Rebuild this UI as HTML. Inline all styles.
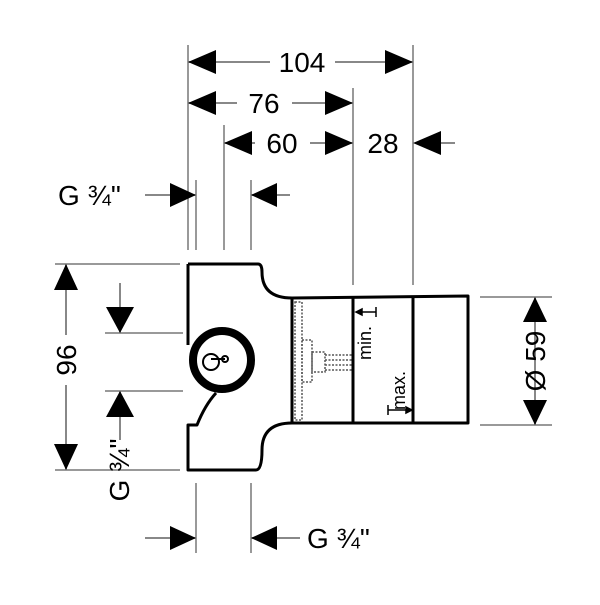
<!DOCTYPE html>
<html><head><style>html,body{margin:0;padding:0;background:#fff}</style></head>
<body>
<svg width="600" height="600" viewBox="0 0 600 600" xmlns="http://www.w3.org/2000/svg" font-family="Liberation Sans, sans-serif">
<g stroke="#999" stroke-width="2" fill="none">
<line x1="188" y1="45" x2="188" y2="250"/>
<line x1="196" y1="180" x2="196" y2="250"/>
<line x1="224" y1="125" x2="224" y2="250"/>
<line x1="251" y1="180" x2="251" y2="250"/>
<line x1="353" y1="88" x2="353" y2="285"/>
<line x1="413" y1="45" x2="413" y2="285"/>
<line x1="55" y1="264" x2="180" y2="264"/>
<line x1="55" y1="470" x2="180" y2="470"/>
<line x1="105" y1="333" x2="183" y2="333"/>
<line x1="105" y1="391" x2="183" y2="391"/>
<line x1="480" y1="297" x2="552" y2="297"/>
<line x1="480" y1="425" x2="552" y2="425"/>
<line x1="196" y1="483" x2="196" y2="553"/>
<line x1="251" y1="483" x2="251" y2="553"/>
</g>
<g stroke="#888" stroke-width="2" fill="none">
<line x1="188" y1="62" x2="270" y2="62"/><line x1="335" y1="62" x2="413" y2="62"/>
<line x1="188" y1="103" x2="237" y2="103"/><line x1="292" y1="103" x2="353" y2="103"/>
<line x1="224" y1="143" x2="255" y2="143"/><line x1="310" y1="143" x2="353" y2="143"/>
<line x1="420" y1="143" x2="455" y2="143"/>
<line x1="145" y1="195" x2="196" y2="195"/><line x1="251" y1="195" x2="290" y2="195"/>
<line x1="66" y1="264" x2="66" y2="335"/><line x1="66" y1="385" x2="66" y2="470"/>
<line x1="120" y1="283" x2="120" y2="333"/><line x1="120" y1="391" x2="120" y2="440"/>
<line x1="535" y1="297" x2="535" y2="425"/>
<line x1="145" y1="538" x2="196" y2="538"/><line x1="251" y1="538" x2="300" y2="538"/>
</g>
<g fill="#000">
<path d="M188,62 L216,50 L216,74z"/><path d="M413,62 L385,50 L385,74z"/>
<path d="M188,103 L216,91 L216,115z"/><path d="M353,103 L325,91 L325,115z"/>
<path d="M224,143 L252,131 L252,155z"/><path d="M353,143 L325,131 L325,155z"/>
<path d="M413,143 L441,131 L441,155z"/>
<path d="M196,195 L170,183 L170,207z"/><path d="M251,195 L277,183 L277,207z"/>
<path d="M66,264 L54,290 L78,290z"/><path d="M66,470 L54,444 L78,444z"/>
<path d="M120,333 L106,307 L134,307z"/><path d="M120,391 L106,417 L134,417z"/>
<path d="M535,297 L523,322 L547,322z"/><path d="M535,425 L523,400 L547,400z"/>
<path d="M196,538 L170,526 L170,550z"/><path d="M251,538 L277,526 L277,550z"/>
</g>
<g font-size="28" fill="#000">
<text x="302" y="72" text-anchor="middle">104</text>
<text x="264" y="113" text-anchor="middle">76</text>
<text x="282" y="153" text-anchor="middle">60</text>
<text x="383" y="153" text-anchor="middle">28</text>
<text x="58" y="205">G ¾"</text>
<text x="307" y="548">G ¾"</text>
<text transform="translate(76,360) rotate(-90)" text-anchor="middle">96</text>
<text transform="translate(129,470) rotate(-90)" text-anchor="middle">G ¾"</text>
<text transform="translate(545,361) rotate(-90)" text-anchor="middle">Ø 59</text>
</g>
<g stroke="#000" stroke-width="3" fill="none" stroke-linejoin="round">
<path d="M188,264 L258,264 Q262,264 262,272 Q262,298 292,298 L468,296 L468,423 L292,423 Q262,423 262,450 Q262,470 256,470 L188,470 L188,425 L197,425 Q205,405 216,393"/>
<line x1="188" y1="264" x2="188" y2="345"/>
<line x1="292" y1="298" x2="292" y2="423"/>
<line x1="353" y1="297" x2="353" y2="423"/>
<line x1="413" y1="296" x2="413" y2="423"/>
</g>
<circle cx="222" cy="360" r="29" fill="#fff" stroke="#000" stroke-width="8"/>
<circle cx="211" cy="362" r="8" fill="none" stroke="#000" stroke-width="2"/>
<path d="M211,359 L225,359" stroke="#000" stroke-width="2"/>
<circle cx="225" cy="359" r="3" fill="none" stroke="#000" stroke-width="2"/>
<g stroke="#555" stroke-width="1.5" fill="none" stroke-dasharray="2,1.5">
<rect x="295" y="302" width="7" height="118"/>
<rect x="302" y="340" width="10" height="42"/>
<rect x="312" y="352" width="13" height="20"/>
<line x1="325" y1="355" x2="353" y2="355"/><line x1="325" y1="360" x2="353" y2="360"/>
<line x1="325" y1="365" x2="353" y2="365"/><line x1="325" y1="370" x2="353" y2="370"/>
</g>
<g font-size="18" fill="#000">
<text transform="translate(371,360) rotate(-90)">min.</text>
<text transform="translate(405,410) rotate(-90)">max.</text>
</g>
<g stroke="#000" stroke-width="1.5">
<line x1="357" y1="312" x2="376" y2="312"/><line x1="376" y1="307" x2="376" y2="317"/>
<path d="M356,312 L362,309 L362,315z" fill="#000"/>
<line x1="388" y1="410" x2="410" y2="410"/><line x1="388" y1="405" x2="388" y2="415"/>
<path d="M412,410 L406,407 L406,413z" fill="#000"/>
</g>
</svg>
</body></html>
